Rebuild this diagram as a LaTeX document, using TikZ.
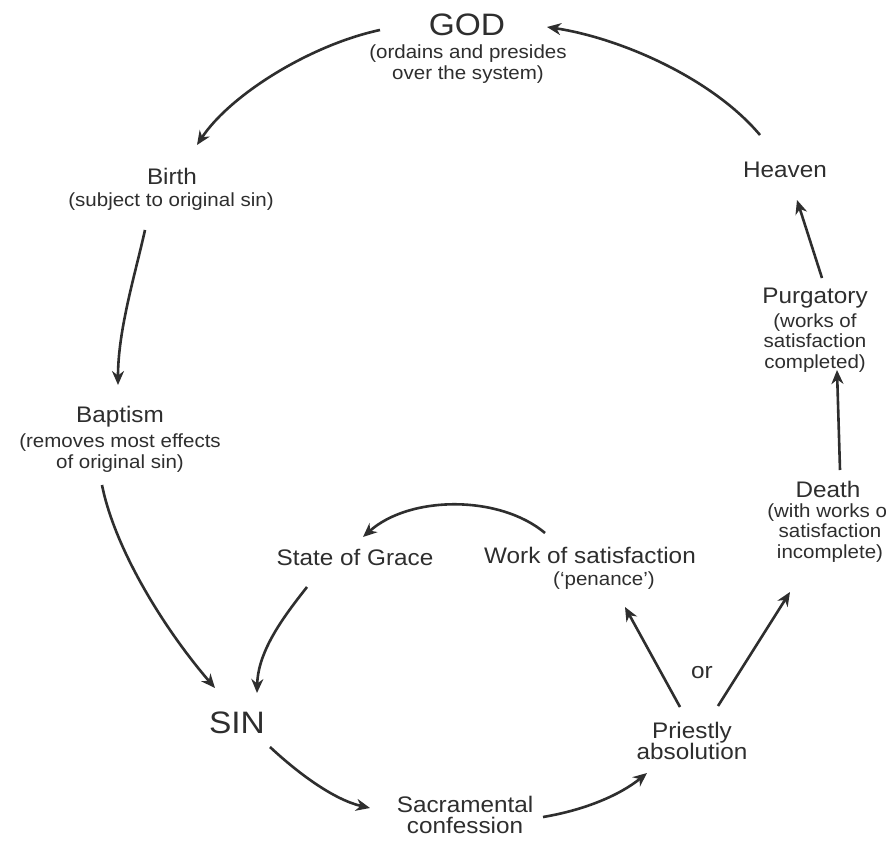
\documentclass[tikz,border=0pt]{standalone}
\usepackage{fontspec}
\setmainfont[FakeStretch=1.08]{Liberation Sans}
\usetikzlibrary{arrows.meta,calc}
\definecolor{ink}{HTML}{2E2E2E}
\begin{document}
\begin{tikzpicture}[x=1pt,y=-1pt,
  ttl/.style={inner sep=0pt, text=ink, align=center, font=\fontsize{22.5}{21.5}\selectfont},
  big/.style={inner sep=0pt, text=ink, font=\fontsize{31}{32}\selectfont},
  sub/.style={inner sep=0pt, text=ink, align=center, font=\fontsize{19}{20.5}\selectfont},
  arr/.style={draw=ink, line width=2.6pt, -{Stealth[length=14pt,width=12pt,inset=4.5pt]}},
]
\useasboundingbox (0,0) rectangle (886,842);
\clip (0,0) rectangle (886,842);
\fill[white] (0,0) rectangle (886,842);

\node[big] (god) at (467,25) {GOD};
\node[sub] (godsub) at (468,64) {(ordains and presides\\over the system)};
\node[ttl] (heaven) at (785,170) {Heaven};
\node[ttl] (purg) at (815,298) {Purgatory};
\node[sub] (purgsub) at (815,343) {(works of\\satisfaction\\completed)};
\node[ttl] (death) at (828,489) {Death};
\node[sub] (deathsub) at (830,533) {(with works of\\satisfaction\\incomplete)};
\node[ttl] (birth) at (172,176) {Birth};
\node[sub] (birthsub) at (171,202) {(subject to original sin)};
\node[ttl] (bapt) at (120,417) {Baptism};
\node[sub] (baptsub) at (120,453) {(removes most effects\\of original sin)};
\node[ttl] (grace) at (355,557) {State of Grace};
\node[ttl] (work) at (590,555) {Work of satisfaction};
\node[sub] (pen) at (604,581) {(‘penance’)};
\node[big] (sin) at (237,723) {SIN};
\node[ttl] (sacr) at (465,815) {Sacramental\\confession};
\node[ttl] (priest) at (692,741) {Priestly\\absolution};
\node[ttl] (or) at (702,673) {or};

\draw[arr] ([shift={(-25,-35)}]heaven.center) .. controls (712,78) and (620,38) .. ([shift={(80,2)}]god.center);
\draw[arr] ([shift={(-87,5)}]god.center) .. controls (310,45) and (230,95) .. ([shift={(25,-31)}]birth.center);
\draw[arr] ([shift={(-27,54)}]birth.center) .. controls (135,275) and (118,330) .. ([shift={(-2,-32)}]bapt.center);
\draw[arr] ([shift={(-18,68)}]bapt.center) .. controls (115,550) and (165,630) .. ([shift={(-22,-35)}]sin.center);
\draw[arr] ([shift={(-48,30)}]grace.center) .. controls (285,615) and (258,650) .. ([shift={(20,-30)}]sin.center);
\draw[arr] ([shift={(33,24)}]sin.center) .. controls (300,775) and (335,800) .. ([shift={(-95,-7)}]sacr.center);
\draw[arr] ([shift={(78,2)}]sacr.center) .. controls (585,810) and (620,795) .. ([shift={(-45,32)}]priest.center);
\draw[arr] ([shift={(-12,-34)}]priest.center) -- ([shift={(21,26)}]pen.center);
\draw[arr] ([shift={(26,-35)}]priest.center) -- ([shift={(-38,103)}]death.center);
\draw[arr] ([shift={(-45,-22)}]work.center) .. controls (500,495) and (410,495) .. ([shift={(8,-20)}]grace.center);
\draw[arr] ([shift={(12,-19)}]death.center) -- ([shift={(22,72)}]purg.center);
\draw[arr] ([shift={(7,-20)}]purg.center) -- ([shift={(12,30)}]heaven.center);
\end{tikzpicture}
\end{document}
